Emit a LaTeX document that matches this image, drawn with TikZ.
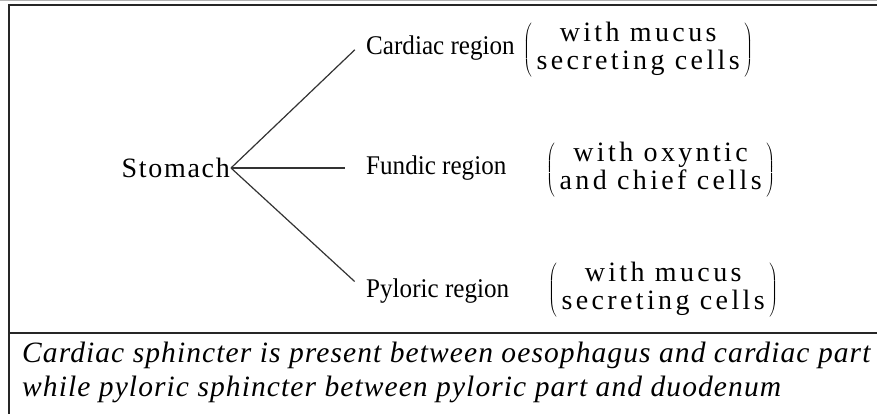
\documentclass[tikz,border=0pt]{standalone}
\usepackage{fontspec}
\setmainfont{Liberation Serif}
\newfontfamily\labelfont{Liberation Serif}[FakeStretch=0.93]
\usetikzlibrary{arrows}

\begin{document}
\begin{tikzpicture}[x=1pt,y=-1pt]
    \tikzstyle{Frame} = [
            draw=black!85,
            line width=1.6pt
    ];
    \tikzstyle{Branch} = [
            draw=black!80,
            line width=1.2pt
    ];
    \tikzstyle{Label} = [
            inner sep=1pt,
            font={\labelfont\fontsize{27}{28}\selectfont}
    ];
    \tikzstyle{Note} = [
            inner sep=0pt,
            font={\fontsize{28}{28}\selectfont\addfontfeatures{LetterSpace=12}}
    ];
    \tikzstyle{Remark} = [
            inner sep=0pt,
            align=left,
            font={\fontsize{29.5}{34}\selectfont\itshape\addfontfeatures{LetterSpace=3.7}}
    ];

    \useasboundingbox (0,0) rectangle (877,414);
    \fill[white] (0,0) rectangle (877,414);
    \draw[black!30, line width=1pt] (0,1) -- (877,1);
    \draw[Frame] (877,5) -- (9,5) -- (9,414);
    \draw[Frame] (9,333) -- (877,333);

    \node[Label, anchor=east, name=Stomach,
          font={\fontsize{28}{28}\selectfont\addfontfeatures{LetterSpace=6}}] at (231,168) {Stomach};
    \node[Label, anchor=west, name=Cardiac] at (365,48)  {Cardiac region};
    \node[Label, anchor=west, name=Fundic]  at (365,168) {Fundic region};
    \node[Label, anchor=west, name=Pyloric] at (365,291) {Pyloric region};

    \node[Note, anchor=west, name=CardiacNote] at (523,50)
        {$\left(\mbox{\begin{tabular}{@{\,}c@{\,}}with mucus\\secreting cells\end{tabular}}\right)$};
    \node[Note, anchor=west, name=FundicNote] at (546,170)
        {$\left(\mbox{\begin{tabular}{@{\,}c@{\,}}with oxyntic\\and chief cells\end{tabular}}\right)$};
    \node[Note, anchor=west, name=PyloricNote] at (548,290)
        {$\left(\mbox{\begin{tabular}{@{\,}c@{\,}}with mucus\\secreting cells\end{tabular}}\right)$};

    \node[Remark, anchor=north west, name=Sphincter] at (22,342)
        {Cardiac sphincter is present between oesophagus and cardiac part\\
         while pyloric sphincter between pyloric part and duodenum};

    \path (Stomach.east) edge [Branch, shorten >=14pt] (Cardiac.174)
          (Stomach.east) edge [Branch, shorten >=20pt] (Fundic.west)
          (Stomach.east) edge [Branch, shorten >=14pt] (Pyloric.west);
\end{tikzpicture}
\end{document}
